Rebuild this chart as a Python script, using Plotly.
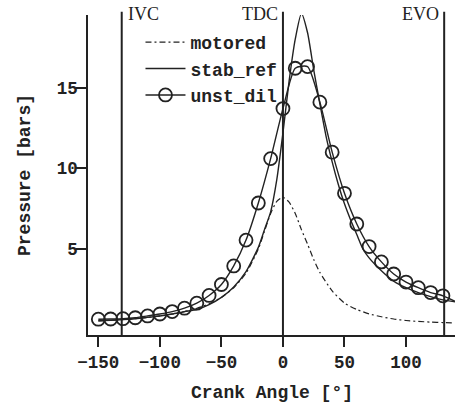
import plotly.graph_objects as go

# ---- data ----
motored_angle = [-150, -140, -130, -120, -110, -100, -90, -80, -70, -60, -50, -40, -30, -20, -15, -10, -5, 0,
                 5, 10, 15, 20, 25, 30, 40, 50, 60, 70, 80, 90, 100, 110, 120, 130, 140]
motored_p = [0.55, 0.58, 0.62, 0.68, 0.76, 0.85, 0.97, 1.12, 1.32, 1.6, 2.0, 2.6, 3.5, 5.0, 6.1, 7.2, 7.95, 8.2,
             7.9, 7.2, 6.2, 5.3, 4.35, 3.55, 2.4, 1.65, 1.25, 0.98, 0.8, 0.66, 0.57, 0.51, 0.47, 0.44, 0.42]

stab_angle = [-150, -140, -130, -120, -110, -100, -90, -80, -70, -60, -50, -40, -30, -20, -15, -10, -5, 0,
              5, 10, 15, 20, 25, 30, 35, 40, 45, 50, 55, 60, 65, 70, 80, 90, 100, 110, 120, 130, 140]
stab_p = [0.55, 0.58, 0.62, 0.68, 0.76, 0.85, 0.97, 1.12, 1.25, 1.55, 2.0, 2.65, 3.6, 5.1, 6.2, 7.3, 9.3, 12.2,
          15.4, 18.0, 19.6, 18.4, 16.1, 14.0, 12.0, 10.4, 9.0, 7.8, 6.8, 5.9, 5.0, 4.45, 3.65, 3.0, 2.6, 2.3,
          2.05, 1.85, 1.72]

unst_angle = [-150, -140, -130, -120, -110, -100, -90, -80, -70, -60, -50, -40, -30, -20, -10, 0,
              10, 20, 30, 40, 50, 60, 70, 80, 90, 100, 110, 120, 130, 140]
unst_p = [0.65, 0.66, 0.68, 0.74, 0.85, 0.97, 1.12, 1.33, 1.64, 2.12, 2.8, 3.95, 5.55, 7.85, 10.6, 13.7,
          16.2, 16.3, 14.1, 11.0, 8.45, 6.55, 5.15, 4.2, 3.45, 2.95, 2.6, 2.3, 2.1, 1.75]

event_angles = [-131, 0, 131]
event_labels = ["IVC", "TDC", "EVO"]

x_ticks = [-150, -100, -50, 0, 50, 100]
y_ticks = [5, 10, 15]
x_title = "Crank Angle [°]"
y_title = "Pressure [bars]"

INK = "#222222"
MONO = "Liberation Mono"
SERIF = "Liberation Serif"

L, R, T, B = 88, 6, 15, 70
W, H = 461, 405
pw, ph = W - L - R, H - T - B

fig = go.Figure()
fig.add_trace(go.Scatter(x=motored_angle, y=motored_p, name="motored", mode="lines",
                         line=dict(color=INK, width=1.2, dash="6px,3px,2px,3px", shape="spline", smoothing=0.6)))
fig.add_trace(go.Scatter(x=stab_angle, y=stab_p, name="stab_ref", mode="lines",
                         line=dict(color=INK, width=1.4, shape="spline", smoothing=0.6)))
fig.add_trace(go.Scatter(x=unst_angle, y=unst_p, name="unst_dil", mode="lines+markers",
                         line=dict(color=INK, width=1.4, shape="spline", smoothing=0.6),
                         marker=dict(symbol="circle-open", size=13, color=INK, line=dict(width=1.8, color=INK)),
                         cliponaxis=False))

for ang, lab in zip(event_angles, event_labels):
    fig.add_shape(type="line", xref="x", yref="paper", x0=ang, x1=ang, y0=0, y1=1.01,
                  line=dict(color=INK, width=2))
    left = lab == "IVC"
    fig.add_annotation(x=ang, xref="x", y=(H - B - 14) / ph, yref="paper", text=lab, showarrow=False,
                       xanchor="left" if left else "right", yanchor="middle", xshift=4 if left else -3,
                       font=dict(family=SERIF, size=18, color=INK))

# axis titles
fig.add_annotation(x=0.5, xref="paper", y=(H - B - 393) / ph, yref="paper", text=x_title, showarrow=False,
                   xanchor="center", yanchor="middle",
                   font=dict(family=MONO, size=18, color=INK, weight="bold"))
fig.add_annotation(x=(25 - L) / pw, xref="paper", y=0.5, yref="paper", text=y_title, showarrow=False,
                   textangle=-90, xanchor="center", yanchor="middle",
                   font=dict(family=MONO, size=18, color=INK, weight="bold"))

fig.update_layout(
    width=W, height=H,
    margin=dict(l=L, r=R, t=T, b=B, autoexpand=False),
    paper_bgcolor="white", plot_bgcolor="white",
    showlegend=True,
    legend=dict(x=0.143, y=0.972, xanchor="left", yanchor="top", bgcolor="rgba(0,0,0,0)",
                borderwidth=0, itemwidth=40, tracegroupgap=0,
                font=dict(family=MONO, size=18, color=INK, weight="bold")),
)
fig.update_xaxes(range=[-158.4, 139.8], tickvals=x_ticks, ticks="outside", ticklen=10, tickwidth=1.5,
                 tickcolor=INK, showline=True, linecolor=INK, linewidth=1.5, showgrid=False, zeroline=False,
                 automargin=False,
                 tickfont=dict(family=MONO, size=17.5, color=INK, weight="bold"))
fig.update_yaxes(range=[-0.33, 19.5], tickvals=y_ticks, ticks="outside", ticklen=10, tickwidth=1.5,
                 tickcolor=INK, showline=True, linecolor=INK, linewidth=1.5, showgrid=False, zeroline=False,
                 automargin=False, ticklabelstandoff=-5,
                 tickfont=dict(family=MONO, size=17.5, color=INK, weight="bold"))

fig.write_html("out.html", config={"displayModeBar": False},
               post_script="document.body.style.margin='0px';")
